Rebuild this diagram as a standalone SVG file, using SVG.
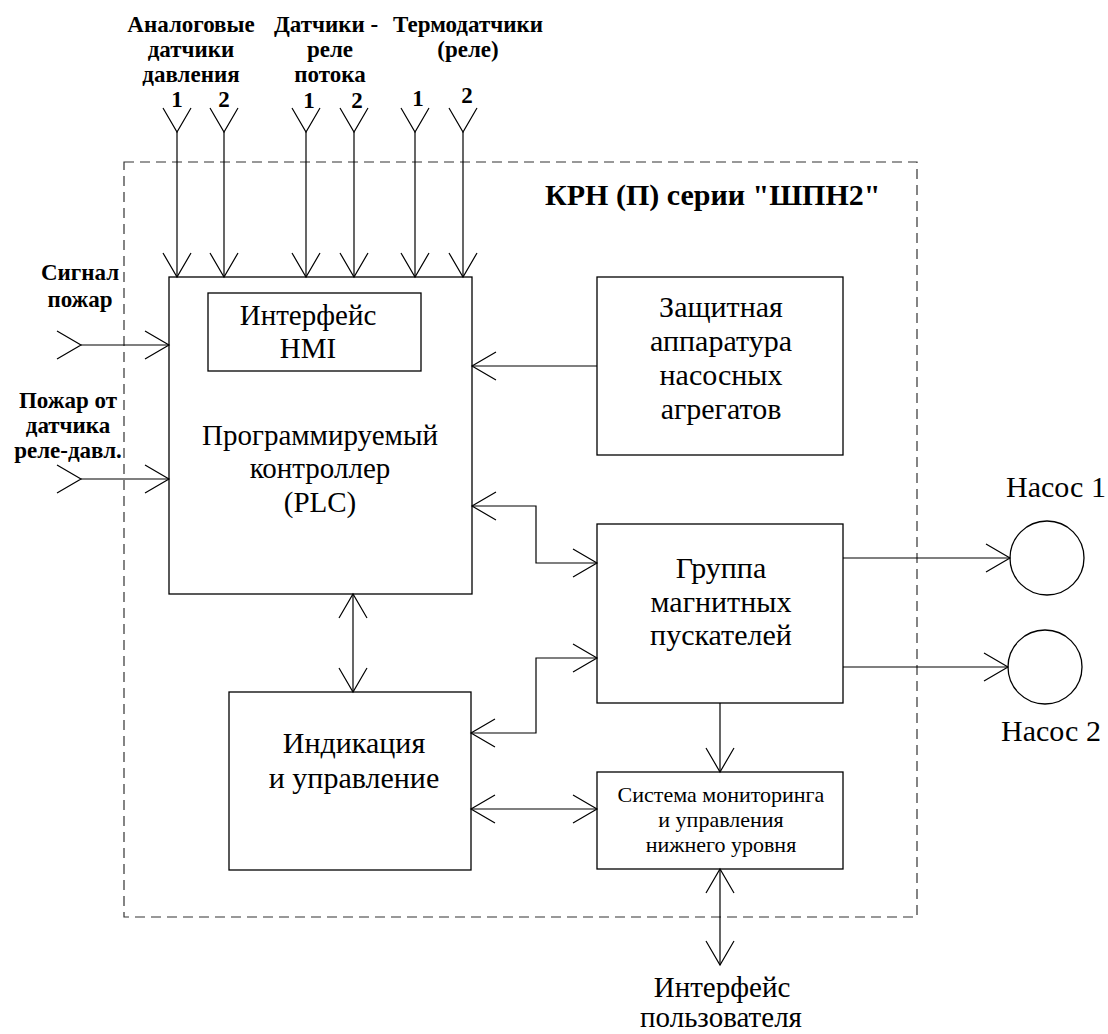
<svg xmlns="http://www.w3.org/2000/svg" width="1108" height="1034" viewBox="0 0 1108 1034">
<defs>
<marker id="ah" markerUnits="userSpaceOnUse" markerWidth="30" markerHeight="32" viewBox="-26 -16 30 32" refX="0" refY="0" orient="auto-start-reverse" overflow="visible">
<path d="M-24,-14 L0,0 L-24,14" fill="none" stroke="#000" stroke-width="1.2"/>
</marker>
<marker id="fork" markerUnits="userSpaceOnUse" markerWidth="30" markerHeight="32" viewBox="-26 -16 30 32" refX="0" refY="0" orient="auto" overflow="visible">
<path d="M-24,-14 L0,0 L-24,14" fill="none" stroke="#000" stroke-width="1.2"/>
</marker>
</defs>
<style>
.box{fill:none;stroke:#000;stroke-width:1.3}
.ln{fill:none;stroke:#000;stroke-width:1.2}
text{font-family:'Liberation Serif','Times New Roman','DejaVu Serif',serif;fill:#000;text-anchor:middle}
.t{font-size:30px}
.m{font-size:29px}
.s{font-size:22px}
.b{font-size:23px;font-weight:bold}
.title{font-size:30px;font-weight:bold;text-anchor:start}
</style>
<rect width="1108" height="1034" fill="#fff"/>

<g id="frame">
<rect x="124" y="162" width="793" height="755" fill="none" stroke="#333" stroke-width="1.2" stroke-dasharray="10,6"/>
<text class="title" x="545" y="205">КРН (П) серии "ШПН2"</text>
</g>

<g id="sensor-labels">
<text class="b" x="191" y="32">Аналоговые</text>
<text class="b" x="191" y="57">датчики</text>
<text class="b" x="191" y="82">давления</text>
<text class="b" x="326" y="32">Датчики -</text>
<text class="b" x="330" y="57">реле</text>
<text class="b" x="330" y="82">потока</text>
<text class="b" x="468" y="32">Термодатчики</text>
<text class="b" x="468" y="57">(реле)</text>
<text class="b" x="177" y="107">1</text>
<text class="b" x="224" y="107">2</text>
<text class="b" x="309" y="108">1</text>
<text class="b" x="357" y="108">2</text>
<text class="b" x="418" y="106">1</text>
<text class="b" x="467" y="103">2</text>
</g>

<g id="input-labels">
<text class="b" x="80" y="280">Сигнал</text>
<text class="b" x="80" y="307">пожар</text>
<text class="b" x="68" y="408">Пожар от</text>
<text class="b" x="68" y="433">датчика</text>
<text class="b" x="68" y="458">реле-давл.</text>
</g>

<g id="plc">
<rect class="box" x="169" y="277" width="303" height="317"/>
<text class="m" x="320" y="445">Программируемый</text>
<text class="m" x="320" y="478">контроллер</text>
<text class="m" x="320" y="512">(PLC)</text>
</g>
<g id="hmi">
<rect class="box" x="208" y="293" width="213" height="78"/>
<text class="m" x="308" y="325">Интерфейс</text>
<text class="m" x="308" y="358">HMI</text>
</g>
<g id="protection">
<rect class="box" x="597" y="277" width="246" height="178"/>
<text class="t" x="721" y="317">Защитная</text>
<text class="t" x="721" y="351">аппаратура</text>
<text class="t" x="721" y="385">насосных</text>
<text class="t" x="721" y="419">агрегатов</text>
</g>
<g id="starters">
<rect class="box" x="597" y="524" width="246" height="179"/>
<text class="t" x="721" y="578">Группа</text>
<text class="t" x="721" y="612">магнитных</text>
<text class="t" x="721" y="645">пускателей</text>
</g>
<g id="indication">
<rect class="box" x="229" y="692" width="242" height="178"/>
<text class="t" x="354" y="753">Индикация</text>
<text class="t" x="354" y="788">и управление</text>
</g>
<g id="monitoring">
<rect class="box" x="597" y="772" width="246" height="97"/>
<text class="s" x="721" y="802">Система мониторинга</text>
<text class="s" x="721" y="827">и управления</text>
<text class="s" x="721" y="852">нижнего уровня</text>
</g>
<g id="pump1">
<circle class="box" cx="1047" cy="558" r="37"/>
<text class="t" x="1056" y="497">Насос 1</text>
</g>
<g id="pump2">
<circle class="box" cx="1045" cy="667" r="37"/>
<text class="t" x="1051" y="741">Насос 2</text>
</g>
<g id="user-interface">
<text class="m" x="722" y="997">Интерфейс</text>
<text class="m" x="721" y="1027">пользователя</text>
</g>

<g id="connectors">
<path class="ln" d="M177,132 V277" marker-start="url(#fork)" marker-end="url(#ah)"/>
<path class="ln" d="M224,132 V277" marker-start="url(#fork)" marker-end="url(#ah)"/>
<path class="ln" d="M306,132 V277" marker-start="url(#fork)" marker-end="url(#ah)"/>
<path class="ln" d="M354,132 V277" marker-start="url(#fork)" marker-end="url(#ah)"/>
<path class="ln" d="M415,132 V277" marker-start="url(#fork)" marker-end="url(#ah)"/>
<path class="ln" d="M463,132 V277" marker-start="url(#fork)" marker-end="url(#ah)"/>
<path class="ln" d="M81,345 H169" marker-start="url(#fork)" marker-end="url(#ah)"/>
<path class="ln" d="M81,479 H169" marker-start="url(#fork)" marker-end="url(#ah)"/>
<path class="ln" d="M597,366 H472" marker-end="url(#ah)"/>
<path class="ln" d="M472,506 H536 V563 H597" marker-start="url(#ah)" marker-end="url(#ah)"/>
<path class="ln" d="M353,594 V692" marker-start="url(#ah)" marker-end="url(#ah)"/>
<path class="ln" d="M471,733 H536 V658 H597" marker-start="url(#ah)" marker-end="url(#ah)"/>
<path class="ln" d="M471,809 H597" marker-start="url(#ah)" marker-end="url(#ah)"/>
<path class="ln" d="M720,703 V772" marker-end="url(#ah)"/>
<path class="ln" d="M720,869 V965" marker-start="url(#ah)" marker-end="url(#ah)"/>
<path class="ln" d="M843,558 H1010" marker-end="url(#ah)"/>
<path class="ln" d="M843,667 H1008" marker-end="url(#ah)"/>
</g>
</svg>
